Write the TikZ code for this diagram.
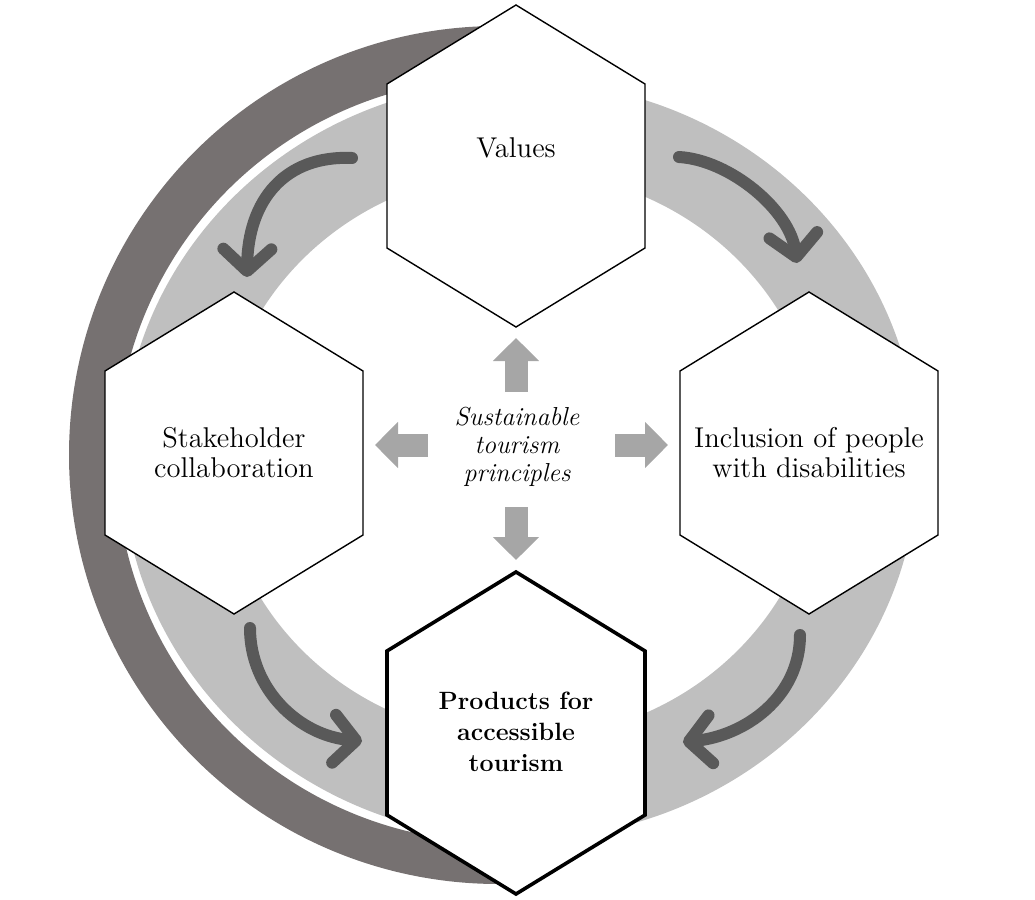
\documentclass[tikz,border=0pt]{standalone}
\usepackage{xcolor}
\usepackage{tikz}
\usetikzlibrary{arrows.meta}

\definecolor{ringdark}{RGB}{118,113,113}
\definecolor{ringlight}{RGB}{191,191,191}
\definecolor{arrowdark}{RGB}{89,89,89}
\definecolor{arrowlight}{RGB}{166,166,166}

\begin{document}
\begin{tikzpicture}[
	x=0.5pt, y=-0.5pt,
	font=\fontsize{14.3pt}{15pt}\selectfont
]
\tikzset{
    myhex/.style = {draw=black, fill=white, line width=0.7pt, line join=miter},
    mytext/.style = {align=center, inner sep=0pt},
    myturn/.style = {draw=arrowdark, line width=6pt, line cap=round, -{Straight Barb[round,length=11pt,width=24pt]}},
    myblock/.style = {draw=arrowlight, line width=11.5pt, -{Triangle[length=11.5pt,width=22.5pt]}}
}
\useasboundingbox (0,0) rectangle (1035,900);

% dark band and light ring
\fill[ringdark] (498,26) arc[start angle=270, end angle=85, radius=429] -- (531.3,840.5) arc[start angle=85, end angle=270, radius=382] -- cycle;
\fill[ringlight, even odd rule] (520,460) ellipse [x radius=398, y radius=379] (520,455) ellipse [x radius=300, y radius=284];

% curved arrows
\coordinate (a1) at (352,158); \coordinate (b1) at (247,277);
\coordinate (a2) at (679,157); \coordinate (b2) at (797,263);
\coordinate (a3) at (250,628); \coordinate (b3) at (362,741);
\coordinate (a4) at (800,635); \coordinate (b4) at (683,742);
\draw[myturn] (a1) .. controls (285,155) and (248,200) .. (b1);
\draw[myturn] (a2) .. controls (730,160) and (790,210) .. (b2);
\draw[myturn] (a3) .. controls (250,690) and (300,736) .. (b3);
\draw[myturn] (a4) .. controls (800,697) and (745,736) .. (b4);

% hexagons
\coordinate (values) at (516,166);
\coordinate (stake) at (234,453);
\coordinate (incl) at (809,453);
\coordinate (prod) at (516,733);
\foreach \c in {values,stake,incl}
  \draw[myhex] (\c) ++(0,-161) -- ++(129,79) -- ++(0,164) -- ++(-129,79) -- ++(-129,-79) -- ++(0,-164) -- cycle;
\draw[myhex, line width=1.8pt] (prod) ++(0,-161) -- ++(129,79) -- ++(0,164) -- ++(-129,79) -- ++(-129,-79) -- ++(0,-164) -- cycle;

% block arrows
\coordinate (u0) at (516,392); \coordinate (u1) at (516,338);
\coordinate (l0) at (428,445); \coordinate (l1) at (375,445);
\coordinate (r0) at (615,445); \coordinate (r1) at (668,445);
\coordinate (d0) at (516,507); \coordinate (d1) at (516,560);
\draw[myblock] (u0) -- (u1);
\draw[myblock] (l0) -- (l1);
\draw[myblock] (r0) -- (r1);
\draw[myblock] (d0) -- (d1);

% texts
\node[mytext] (valuesText) at (516,148) {Values};
\node[mytext] (stakeText) at (234,453) {Stakeholder\\collaboration};
\node[mytext] (inclText) at (809,453) {Inclusion of people\\with disabilities};
\node[mytext, font=\fontsize{12.5pt}{15.5pt}\selectfont\bfseries] (prodText) at (516,732) {Products for\\accessible\\tourism};
\node[mytext, font=\fontsize{13pt}{14pt}\selectfont\itshape] (principles) at (517,447) {Sustainable\\tourism\\principles};
\end{tikzpicture}
\end{document}
